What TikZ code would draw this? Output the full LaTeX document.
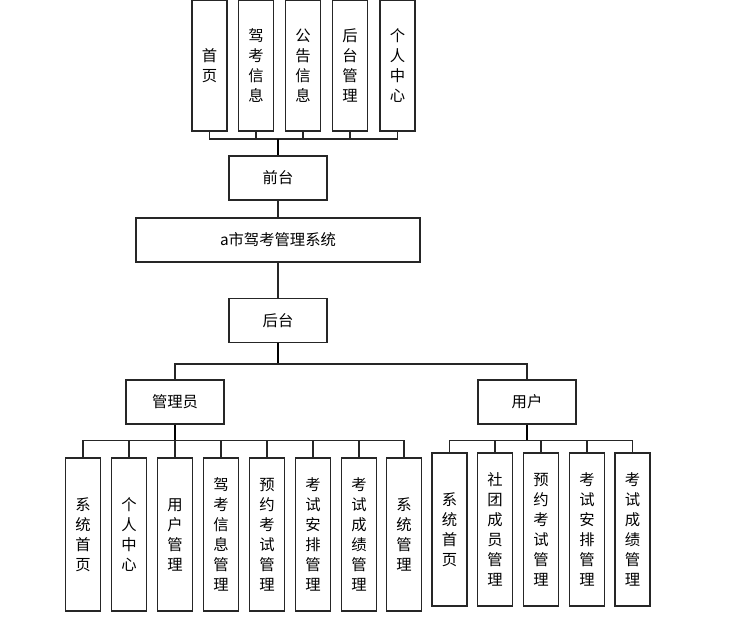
\documentclass[tikz,border=0pt]{standalone}
\usepackage{fontspec}
\usepackage{tikz}
\usetikzlibrary{positioning}
\setmainfont{Noto Sans CJK SC}
\definecolor{edge}{gray}{0.15}
\tikzset{
  hbox/.style={
    draw=edge, line width=1pt, fill=white,
    minimum width=73.5pt, minimum height=33pt,
    font=\fontsize{11.5}{15}\selectfont, inner sep=0pt
  },
  vbox/.style={
    draw=edge, line width=1pt, fill=white,
    minimum width=26.25pt, minimum height=#1,
    text width=12pt, align=center,
    font=\fontsize{11.5}{15}\selectfont, inner sep=0pt
  },
  vbox/.default=114.75pt,
  link/.style={line width=1pt, color=edge},
  stem/.style={line width=1.7pt, color=black}
}
\begin{document}
\begin{tikzpicture}[x=0.75pt, y=-0.75pt]
    \useasboundingbox (0,0) rectangle (750,618);

    % front end
    \node[vbox=98.25pt] (F1) at (209.5,65.5) {首\\页};
    \node[vbox=98.25pt] (F2) at (256,65.5)   {驾\\考\\信\\息};
    \node[vbox=98.25pt] (F3) at (303,65.5)   {公\\告\\信\\息};
    \node[vbox=98.25pt] (F4) at (350,65.5)   {后\\台\\管\\理};
    \node[vbox=98.25pt] (F5) at (397.5,65.5) {个\\人\\中\\心};
    \node[hbox] (qian) at (278,178) {前台};

    \node[hbox, minimum width=213pt] (sys) at (278,240) {a市驾考管理系统};
    \node[hbox] (hou) at (278,320.5) {后台};

    % back end
    \node[hbox] (admin) at (175,402) {管理员};
    \node[hbox] (user)  at (527,402) {用户};

    \node[vbox] (A1) at (83,534.5)  {系\\统\\首\\页};
    \node[vbox] (A2) at (129,534.5) {个\\人\\中\\心};
    \node[vbox] (A3) at (175,534.5) {用\\户\\管\\理};
    \node[vbox] (A4) at (221,534.5) {驾\\考\\信\\息\\管\\理};
    \node[vbox] (A5) at (267,534.5) {预\\约\\考\\试\\管\\理};
    \node[vbox] (A6) at (313,534.5) {考\\试\\安\\排\\管\\理};
    \node[vbox] (A7) at (359,534.5) {考\\试\\成\\绩\\管\\理};
    \node[vbox] (A8) at (404,534.5) {系\\统\\管\\理};

    \node[vbox] (U1) at (449.5,529.5) {系\\统\\首\\页};
    \node[vbox] (U2) at (495,529.5)   {社\\团\\成\\员\\管\\理};
    \node[vbox] (U3) at (541,529.5)   {预\\约\\考\\试\\管\\理};
    \node[vbox] (U4) at (587,529.5)   {考\\试\\安\\排\\管\\理};
    \node[vbox] (U5) at (632.5,529.5) {考\\试\\成\\绩\\管\\理};

    \coordinate (qbus) at (278,139);
    \coordinate (hbus) at (278,364);
    \coordinate (abus) at (175,440.5);
    \coordinate (ubus) at (527,440.5);

    \draw[link] (qbus) -| (F1.south);
    \draw[link] (qbus) -| (F2.south);
    \draw[link] (qbus) -| (F3.south);
    \draw[link] (qbus) -| (F4.south);
    \draw[link] (qbus) -| (F5.south);
    \draw[stem] (qbus) -- (qian.north);
    \draw[link] (qian) -- (sys);
    \draw[link] (sys) -- (hou);
    \draw[stem] (hou.south) -- (hbus);
    \draw[link] (hbus) -| (admin.north);
    \draw[link] (hbus) -| (user.north);

    \draw[stem] (admin.south) -- (abus);
    \foreach \k in {1,...,8}
      \draw[link] (abus) -| (A\k.north);
    \draw[stem] (user.south) -- (ubus);
    \foreach \k in {1,...,5}
      \draw[link] (ubus) -| (U\k.north);
\end{tikzpicture}
\end{document}
